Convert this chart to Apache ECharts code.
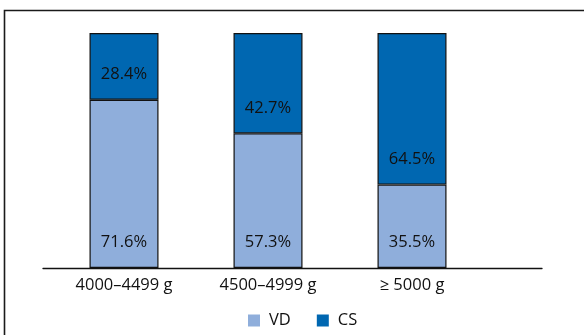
<!DOCTYPE html>
<html>
<head>
<meta charset="utf-8">
<script src="https://cdn.jsdelivr.net/npm/echarts@6/dist/echarts.min.js"></script>
<style>
  html, body { margin: 0; padding: 0; background: #fff; }
  #chart { width: 584px; height: 335px; }
</style>
</head>
<body>
<div id="chart"></div>
<script>
// Birth-weight groups and share of delivery mode (%)
const categories = ['4000\u20134499 g', '4500\u20134999 g', '\u2265 5000 g'];
const vdValues = [71.6, 57.3, 35.5];
const csValues = [28.4, 42.7, 64.5];

const FONT = '"Open Sans", "Noto Sans", sans-serif';
const VD_COLOR = '#8FAEDB';
const CS_COLOR = '#0067B1';

const chart = echarts.init(document.getElementById('chart'), null, { renderer: 'canvas' });

const pctLabel = {
  show: true,
  position: 'insideBottom',
  distance: 17,
  color: '#111',
  fontFamily: FONT,
  fontSize: 16.5,
  formatter: p => p.value.toFixed(1) + '%'
};

chart.setOption({
  animation: false,
  graphic: [{
    type: 'rect',
    silent: true,
    shape: { x: 4.5, y: 10.5, width: 700, height: 500 },
    style: { fill: 'none', stroke: '#1a1a1a', lineWidth: 1.6 }
  }],
  legend: {
    bottom: 1,
    left: 243,
    itemWidth: 12,
    itemHeight: 12,
    itemGap: 26,
    icon: 'rect',
    itemStyle: { borderWidth: 0 },
    textStyle: { fontFamily: FONT, fontSize: 16.5, color: '#111', padding: [0, 0, 0, 4] },
    data: ['VD', 'CS']
  },
  grid: [
    { left: 52, width: 432, top: 33, bottom: 67 },
    { left: 43, right: 42, top: 33, bottom: 67 }
  ],
  xAxis: [
    {
      type: 'category',
      gridIndex: 0,
      data: categories,
      axisLine: { show: false },
      axisTick: { show: false },
      axisLabel: { fontFamily: FONT, fontSize: 16.5, color: '#111', margin: 9 }
    },
    {
      type: 'category',
      gridIndex: 1,
      data: [''],
      axisLine: { show: true, lineStyle: { color: '#111', width: 1.3 } },
      axisTick: { show: false },
      axisLabel: { show: false }
    }
  ],
  yAxis: [
    { type: 'value', gridIndex: 0, min: 0, max: 100, show: false },
    { type: 'value', gridIndex: 1, min: 0, max: 100, show: false }
  ],
  series: [
    {
      name: 'VD',
      type: 'bar',
      stack: 'mode',
      barWidth: 69,
      data: vdValues,
      itemStyle: { color: VD_COLOR, borderColor: '#111', borderWidth: 1.2 },
      label: pctLabel
    },
    {
      name: 'CS',
      type: 'bar',
      stack: 'mode',
      barWidth: 69,
      data: csValues,
      itemStyle: { color: CS_COLOR, borderColor: '#111', borderWidth: 1.2 },
      label: pctLabel
    }
  ]
});
</script>
</body>
</html>
